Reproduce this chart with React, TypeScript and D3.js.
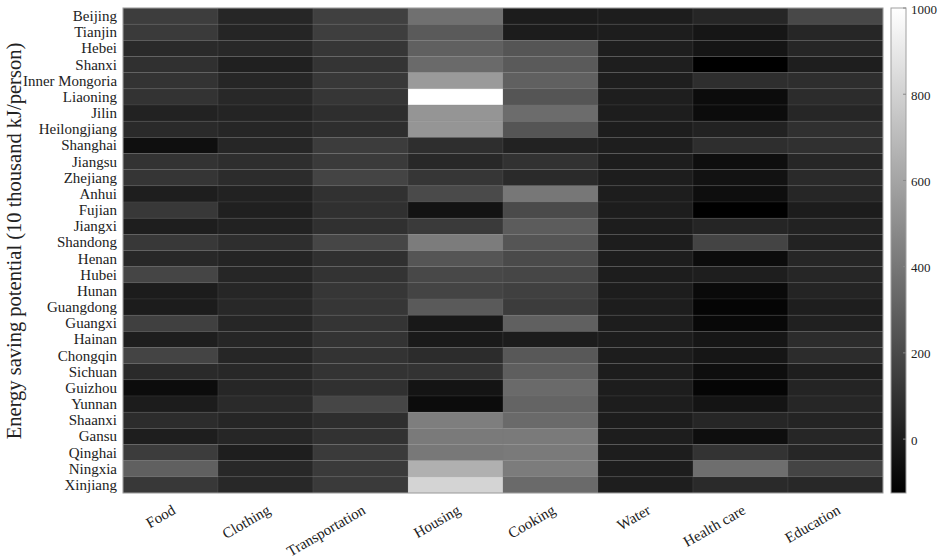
import React from "react";
import * as d3 from "d3";

const provinces = [
  "Beijing", "Tianjin", "Hebei", "Shanxi", "Inner Mongoria", "Liaoning", "Jilin", "Heilongjiang",
  "Shanghai", "Jiangsu", "Zhejiang", "Anhui", "Fujian", "Jiangxi", "Shandong", "Henan", "Hubei",
  "Hunan", "Guangdong", "Guangxi", "Hainan", "Chongqin", "Sichuan", "Guizhou", "Yunnan", "Shaanxi",
  "Gansu", "Qinghai", "Ningxia", "Xinjiang",
];

const categories = ["Food", "Clothing", "Transportation", "Housing", "Cooking", "Water", "Health care", "Education"];

const food = [144, 131, 60, 87, 100, 100, 25, 60, -59, 100, 109, 7, 122, 7, 122, 51, 179, -1, -1, 157, 7, 175, 60, -72, -1, 69, 7, 140, 299, 122];
const clothing = [43, 38, 51, 16, 43, 51, 34, 43, 43, 78, 69, 25, 16, 25, 78, 34, 43, 43, 51, 43, 43, 43, 51, 43, 60, 43, 43, 7, 51, 51];
const transportation = [157, 149, 113, 104, 122, 113, 78, 78, 140, 131, 175, 91, 87, 87, 184, 87, 100, 113, 113, 104, 100, 100, 100, 87, 184, 78, 96, 131, 131, 131];
const housing = [369, 272, 299, 343, 554, 1000, 532, 532, 78, 51, 113, 201, -41, 131, 422, 250, 193, 175, 272, -19, -10, 69, 100, -37, -72, 431, 413, 404, 652, 810];
const cooking = [-1, -1, 250, 272, 299, 250, 352, 250, 25, 96, 60, 400, 201, 281, 250, 201, 184, 157, 140, 299, -1, 263, 290, 343, 316, 343, 413, 413, 422, 343];
const water = [5, 5, 6, 6, 6, 6, 5, 5, 6, 4, 4, 5, 5, 5, 5, 5, 5, 4, 4, 5, 5, 5, 5, 5, 5, 5, 5, 5, 5, 6];
const healthCare = [43, -28, -32, -125, 78, -72, -72, 25, 78, -63, -46, -63, -125, 38, 175, -72, 7, -81, -103, -90, -28, -28, -63, -103, -37, 43, -63, 100, 360, 60];
const education = [193, 43, 43, 7, 78, 69, 43, 87, 87, 43, 60, 43, -1, 25, 25, 43, 43, 34, 7, 16, 69, 69, 7, 34, 43, 34, 43, 43, 175, 51];

const seriesByCategory = [food, clothing, transportation, housing, cooking, water, healthCare, education];

const colorTicks = [0, 200, 400, 600, 800, 1000];
const colorMin = -125;
const colorMax = 1000;

const W = 941;
const H = 560;
const plot = { left: 123, top: 8, right: 883, bottom: 493 };
const cbar = { left: 891, right: 906 };
const FONT = "'Liberation Serif', 'Times New Roman', serif";

export default function App() {
  const x = d3.scaleBand<string>().domain(categories).range([plot.left, plot.right]).padding(0);
  const y = d3.scaleBand<string>().domain(provinces).range([plot.top, plot.bottom]).padding(0);
  const color = d3.scaleLinear<string>().domain([colorMin, colorMax]).range(["#000000", "#ffffff"]).clamp(true);
  const cy = d3.scaleLinear().domain([colorMin, colorMax]).range([plot.bottom, plot.top]);

  const cells: React.ReactNode[] = [];
  categories.forEach((cat, ci) => {
    provinces.forEach((p, pi) => {
      const v = seriesByCategory[ci][pi];
      cells.push(
        <rect
          key={cat + p}
          x={x(cat)}
          y={y(p)}
          width={x.bandwidth()}
          height={y.bandwidth()}
          fill={color(v)}
          stroke="#7a7a7a"
          strokeOpacity={0.25}
          strokeWidth={0.6}
        />
      );
    });
  });

  return (
    <svg width={W} height={H} style={{ display: "block", position: "absolute", left: 0, top: 0 }} fontFamily={FONT}>
      <rect x={0} y={0} width={W} height={H} fill="#ffffff" />
      <defs>
        <linearGradient id="cbgrad" x1="0" y1="1" x2="0" y2="0">
          <stop offset="0%" stopColor={color(colorMin)} />
          <stop offset="100%" stopColor={color(colorMax)} />
        </linearGradient>
      </defs>
      {cells}
      <rect
        x={plot.left}
        y={plot.top}
        width={plot.right - plot.left}
        height={plot.bottom - plot.top}
        fill="none"
        stroke="#a0a0a0"
        strokeWidth={1}
      />
      {provinces.map((p) => (
        <text
          key={p}
          x={plot.left - 6}
          y={(y(p) as number) + y.bandwidth() / 2}
          textAnchor="end"
          dominantBaseline="central"
          fontSize={15}
          fill="#222"
          {...(p.length > 12 ? { textLength: 94, lengthAdjust: "spacingAndGlyphs" } : {})}
        >
          {p}
        </text>
      ))}
      {categories.map((c) => {
        const cx = (x(c) as number) + x.bandwidth() / 2 + 6;
        const ty = plot.bottom + 20;
        return (
          <text
            key={c}
            x={cx}
            y={ty}
            textAnchor="end"
            fontSize={15}
            fill="#222"
            transform={`rotate(-30 ${cx} ${ty})`}
          >
            {c}
          </text>
        );
      })}
      <text
        x={0}
        y={0}
        transform={`translate(21 241) rotate(-90)`}
        textAnchor="middle"
        fontSize={20.5}
        fill="#222"
      >
        Energy saving potential (10 thousand kJ/person)
      </text>
      <rect
        x={cbar.left}
        y={plot.top}
        width={cbar.right - cbar.left}
        height={plot.bottom - plot.top}
        fill="url(#cbgrad)"
        stroke="#a0a0a0"
        strokeWidth={1}
      />
      {colorTicks.map((t) => (
        <g key={t}>
          <line x1={cbar.right - 3} x2={cbar.right} y1={cy(t)} y2={cy(t)} stroke="#888" strokeWidth={1} />
          <text x={cbar.right + 5} y={cy(t) + 1} dominantBaseline="central" fontSize={13} fill="#222">
            {t}
          </text>
        </g>
      ))}
    </svg>
  );
}
